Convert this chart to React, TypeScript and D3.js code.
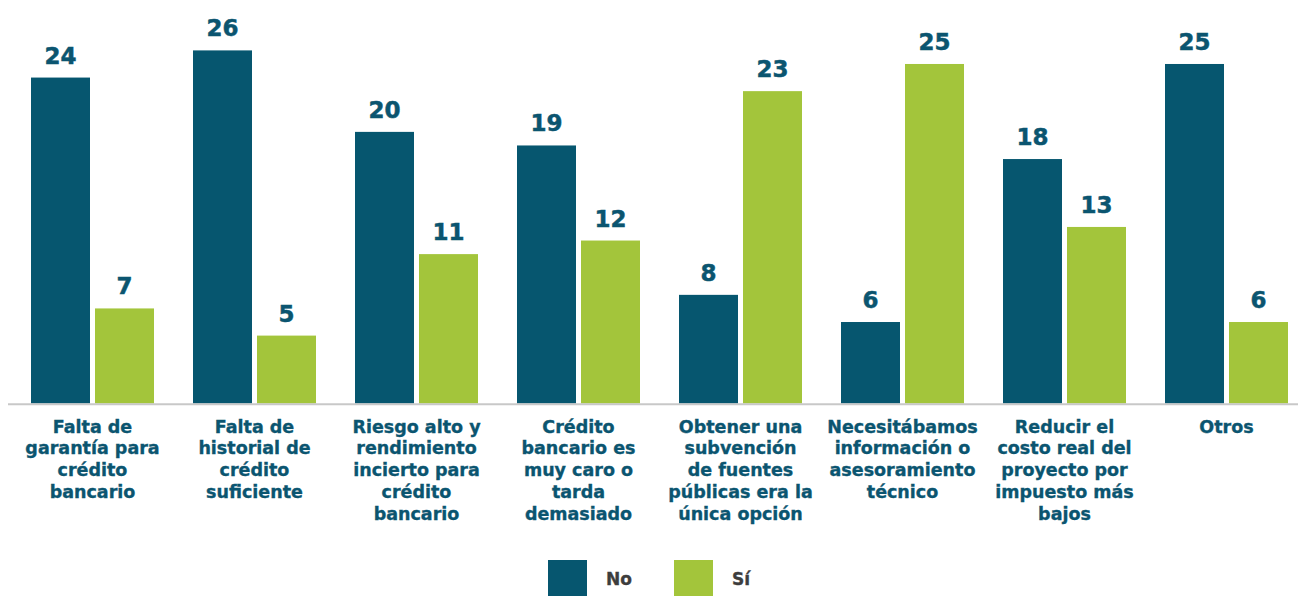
import React from "react";
import * as d3 from "d3";

const categories = [
  "Falta de garantía para crédito bancario",
  "Falta de historial de crédito suficiente",
  "Riesgo alto y rendimiento incierto para crédito bancario",
  "Crédito bancario es muy caro o tarda demasiado",
  "Obtener una subvención de fuentes públicas era la única opción",
  "Necesitábamos información o asesoramiento técnico",
  "Reducir el costo real del proyecto por impuesto más bajos",
  "Otros",
];
const labelLines = [
  ["Falta de", "garantía para", "crédito", "bancario"],
  ["Falta de", "historial de", "crédito", "suficiente"],
  ["Riesgo alto y", "rendimiento", "incierto para", "crédito", "bancario"],
  ["Crédito", "bancario es", "muy caro o", "tarda", "demasiado"],
  ["Obtener una", "subvención", "de fuentes", "públicas era la", "única opción"],
  ["Necesitábamos", "información o", "asesoramiento", "técnico"],
  ["Reducir el", "costo real del", "proyecto por", "impuesto más", "bajos"],
  ["Otros"],
];
const seriesNames = ["No", "Sí"];
const noValues = [24, 26, 20, 19, 8, 6, 18, 25];
const siValues = [7, 5, 11, 12, 23, 25, 13, 6];
const colors = ["#06566f", "#a3c53b"];

const W = 1298;
const H = 596;
const FONT = "'DejaVu Sans', sans-serif";
const TEXT_COLOR = "#0b5570";

export default function App() {
  const x0 = d3
    .scaleBand<string>()
    .domain(categories)
    .range([11.5, 1307.5])
    .paddingInner(39 / 162)
    .paddingOuter(39 / 324);
  const x1 = d3
    .scaleBand<string>()
    .domain(seriesNames)
    .range([0, x0.bandwidth()])
    .paddingInner(5 / 64)
    .paddingOuter(0);
  const y = d3.scaleLinear().domain([0, 26]).range([403.5, 50.4]);
  const series = [noValues, siValues];

  return (
    <div style={{ position: "absolute", left: 0, top: 0 }}>
      <svg width={W} height={H} style={{ display: "block" }}>
        <rect width={W} height={H} fill="#ffffff" />
        {categories.map((c, i) => (
          <g key={c} transform={`translate(${x0(c)},0)`}>
            {seriesNames.map((s, j) => {
              const v = series[j][i];
              const bx = x1(s)!;
              return (
                <g key={s}>
                  <rect
                    x={bx}
                    y={y(v)}
                    width={x1.bandwidth()}
                    height={y(0) - y(v)}
                    fill={colors[j]}
                  />
                  <text
                    x={bx + x1.bandwidth() / 2}
                    y={y(v) - 14}
                    textAnchor="middle"
                    fontFamily={FONT}
                    fontWeight="bold"
                    fontSize={23}
                    fill={TEXT_COLOR}
                    stroke={TEXT_COLOR}
                    strokeWidth={0.5}
                  >
                    {v}
                  </text>
                </g>
              );
            })}
            {labelLines[i].map((ln, k) => (
              <text
                key={k}
                x={x0.bandwidth() / 2}
                y={432.7 + k * 21.7}
                textAnchor="middle"
                fontFamily={FONT}
                fontWeight="bold"
                fontSize={17.5}
                fill={TEXT_COLOR}
                stroke={TEXT_COLOR}
                strokeWidth={0.35}
              >
                {ln}
              </text>
            ))}
          </g>
        ))}
        <line x1={8} x2={W} y1={404.3} y2={404.3} stroke="#c8c8c8" strokeWidth={2} />
        {seriesNames.map((s, j) => {
          const lx = 548 + j * 126;
          return (
            <g key={s}>
              <rect x={lx} y={560} width={39} height={39} fill={colors[j]} />
              <text
                x={lx + 58}
                y={585}
                fontFamily={FONT}
                fontWeight="bold"
                fontSize={17}
                fill="#3d3d3d"
                stroke="#3d3d3d"
                strokeWidth={0.35}
              >
                {s}
              </text>
            </g>
          );
        })}
      </svg>
    </div>
  );
}
